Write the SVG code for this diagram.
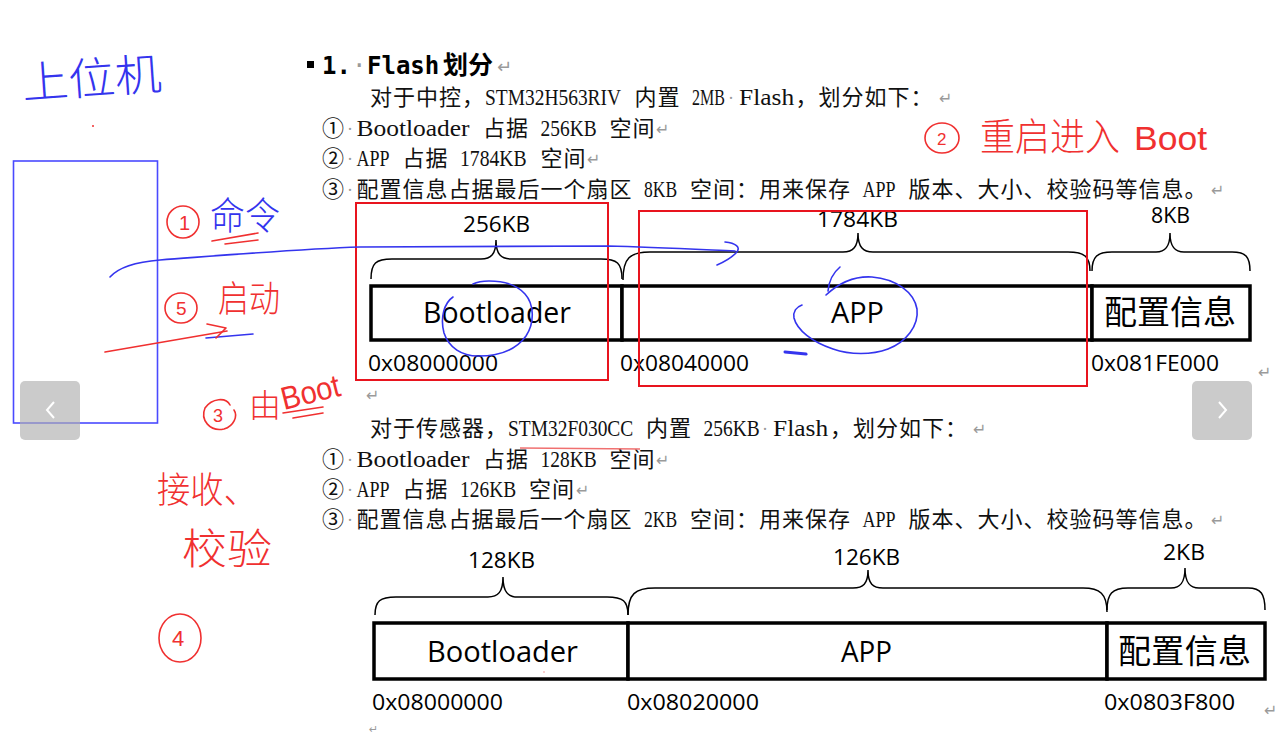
<svg xmlns="http://www.w3.org/2000/svg" width="1275" height="734" viewBox="0 0 1275 734">
<style>
.cjk{font-family:"Noto Sans CJK SC",sans-serif;font-size:22px;letter-spacing:1px;fill:#111}
.lat{font-family:"Liberation Serif","Noto Sans CJK SC",serif;font-size:24px;fill:#111}
.sp{font-family:"Liberation Serif",serif;font-size:18px;fill:#9a9a9a}
.mk{font-family:"DejaVu Sans",sans-serif;font-size:16px;fill:#9a9a9a}
.hd{font-family:"DejaVu Sans Mono","Noto Sans CJK SC",monospace;font-size:24px;font-weight:bold;fill:#000}
.dg{font-family:"Open Sans","Noto Sans CJK SC",sans-serif;fill:#000}
.dgc{font-family:"Noto Sans CJK SC",sans-serif;fill:#000;font-size:33px}
.brace{fill:none;stroke:#000;stroke-width:1.5}
.box{fill:#fff;stroke:#000;stroke-width:3.5}
.redbox{fill:none;stroke:#e8141e;stroke-width:2}
.hb{font-family:"Noto Sans CJK SC",sans-serif;font-weight:200;fill:#3434ee}
.hr{font-family:"Noto Sans CJK SC",sans-serif;font-weight:200;fill:#f03030}
.hrl{font-family:"Liberation Sans",sans-serif;fill:#f03030}
.sb{fill:none;stroke:#3434ee;stroke-width:1.6;stroke-linecap:round;stroke-linejoin:round}
.sr{fill:none;stroke:#f03030;stroke-width:1.6;stroke-linecap:round;stroke-linejoin:round}
.nav{fill:rgb(175,175,175);fill-opacity:0.65}
.chev{fill:none;stroke:#fff;stroke-width:2}
</style>

<!-- Document text -->
<g id="heading">
  <rect x="307" y="61" width="7" height="7" fill="#000"/>
  <text x="322" y="74" class="hd">1.</text>
  <text x="352" y="74" class="hd" style="fill:#9a9a9a;font-weight:normal">·</text>
  <text x="367" y="74" class="hd">Flash</text>
  <text x="443" y="74" class="hd" style="font-family:'Noto Sans CJK SC',sans-serif;font-size:25px">划分</text>
  <text x="497" y="73" class="mk" style="font-size:18px">↵</text>
</g>

<g id="text-block-1">
  <text x="370" y="105" class="cjk">对于中控，</text>
  <text transform="translate(485 105) scale(0.81 1)" class="lat" textLength="168" lengthAdjust="spacingAndGlyphs">STM32H563RIV</text>
  <text x="634.5" y="105" class="cjk">内置</text>
  <text transform="translate(692 105) scale(0.67 1)" class="lat" textLength="49" lengthAdjust="spacingAndGlyphs">2MB</text>
  <text x="728" y="104" class="sp">·</text>
  <text transform="translate(739 105) scale(1.06 1)" class="lat" textLength="52" lengthAdjust="spacingAndGlyphs">Flash</text>
  <text x="795.5" y="105" class="cjk">，划分如下：</text>
  <text x="939" y="104" class="mk">↵</text>

  <text x="322" y="136" class="cjk">①</text>
  <text x="347" y="135" class="sp">·</text>
  <text transform="translate(356.5 136) scale(1.06 1)" class="lat" textLength="106.7" lengthAdjust="spacingAndGlyphs">Bootloader</text>
  <text x="483" y="136" class="cjk">占据</text>
  <text transform="translate(540.5 136) scale(0.81 1)" class="lat" textLength="69.3" lengthAdjust="spacingAndGlyphs">256KB</text>
  <text x="609.5" y="136" class="cjk">空间</text>
  <text x="656" y="135" class="mk">↵</text>

  <text x="322" y="166" class="cjk">②</text>
  <text x="347" y="165" class="sp">·</text>
  <text transform="translate(356.5 166) scale(0.75 1)" class="lat" textLength="44" lengthAdjust="spacingAndGlyphs">APP</text>
  <text x="402.5" y="166" class="cjk">占据</text>
  <text transform="translate(460 166) scale(0.82 1)" class="lat" textLength="81.3" lengthAdjust="spacingAndGlyphs">1784KB</text>
  <text x="540.5" y="166" class="cjk">空间</text>
  <text x="587" y="165" class="mk">↵</text>

  <text x="322" y="197" class="cjk">③</text>
  <text x="347" y="196" class="sp">·</text>
  <text x="356.5" y="197" class="cjk">配置信息占据最后一个扇区</text>
  <text transform="translate(644 197) scale(0.73 1)" class="lat" textLength="45.3" lengthAdjust="spacingAndGlyphs">8KB</text>
  <text x="690" y="197" class="cjk">空间：用来保存</text>
  <text transform="translate(862.5 197) scale(0.75 1)" class="lat" textLength="44" lengthAdjust="spacingAndGlyphs">APP</text>
  <text x="908.5" y="197" class="cjk">版本、大小、校验码等信息。</text>
  <text x="1211" y="196" class="mk">↵</text>
</g>

<g id="text-block-2">
  <text x="370" y="436" class="cjk">对于传感器，</text>
  <text transform="translate(508 436) scale(0.81 1)" class="lat" textLength="154.7" lengthAdjust="spacingAndGlyphs">STM32F030CC</text>
  <text x="646" y="436" class="cjk">内置</text>
  <text transform="translate(703.5 436) scale(0.81 1)" class="lat" textLength="69.3" lengthAdjust="spacingAndGlyphs">256KB</text>
  <text x="762" y="435" class="sp">·</text>
  <text transform="translate(773 436) scale(1.06 1)" class="lat" textLength="52" lengthAdjust="spacingAndGlyphs">Flash</text>
  <text x="830" y="436" class="cjk">，划分如下：</text>
  <text x="973" y="435" class="mk">↵</text>

  <text x="322" y="467" class="cjk">①</text>
  <text x="347" y="466" class="sp">·</text>
  <text transform="translate(356.5 467) scale(1.06 1)" class="lat" textLength="106.7" lengthAdjust="spacingAndGlyphs">Bootloader</text>
  <text x="483" y="467" class="cjk">占据</text>
  <text transform="translate(540.5 467) scale(0.81 1)" class="lat" textLength="69.3" lengthAdjust="spacingAndGlyphs">128KB</text>
  <text x="609.5" y="467" class="cjk">空间</text>
  <text x="656" y="466" class="mk">↵</text>

  <text x="322" y="497" class="cjk">②</text>
  <text x="347" y="496" class="sp">·</text>
  <text transform="translate(356.5 497) scale(0.75 1)" class="lat" textLength="44" lengthAdjust="spacingAndGlyphs">APP</text>
  <text x="402.5" y="497" class="cjk">占据</text>
  <text transform="translate(460 497) scale(0.81 1)" class="lat" textLength="69.3" lengthAdjust="spacingAndGlyphs">126KB</text>
  <text x="529" y="497" class="cjk">空间</text>
  <text x="576" y="496" class="mk">↵</text>

  <text x="322" y="527" class="cjk">③</text>
  <text x="347" y="526" class="sp">·</text>
  <text x="356.5" y="527" class="cjk">配置信息占据最后一个扇区</text>
  <text transform="translate(644 527) scale(0.73 1)" class="lat" textLength="45.3" lengthAdjust="spacingAndGlyphs">2KB</text>
  <text x="690" y="527" class="cjk">空间：用来保存</text>
  <text transform="translate(862.5 527) scale(0.75 1)" class="lat" textLength="44" lengthAdjust="spacingAndGlyphs">APP</text>
  <text x="908.5" y="527" class="cjk">版本、大小、校验码等信息。</text>
  <text x="1211" y="526" class="mk">↵</text>
</g>

<!-- Diagram 1 -->
<g id="diagram-1">
  <g id="d1-braces">
    <path class="brace" d="M371,279 C371,263 376,259 392,259 L481,259 C491,259 496,254 496,240 C496,254 501,259 511,259 L601,259 C617,259 622,263 622,279"/>
    <path class="brace" d="M623,280 C623,258 630,252 650,252 L843,252 C853,252 858,247 858,233 C858,247 863,252 873,252 L1068,252 C1085,252 1090,257 1090,271"/>
    <path class="brace" d="M1092,271 C1092,257 1097,252 1112,252 L1156,252 C1165,252 1170,247 1170,233 C1170,247 1175,252 1184,252 L1232,252 C1246,252 1250,257 1250,271"/>
    <text x="463" y="232" class="dg" font-size="21" textLength="67" lengthAdjust="spacingAndGlyphs">256KB</text>
    <text x="817" y="227" class="dg" font-size="21" textLength="81" lengthAdjust="spacingAndGlyphs">1784KB</text>
    <text x="1151" y="223" class="dg" font-size="21" textLength="39" lengthAdjust="spacingAndGlyphs">8KB</text>
  </g>
  <g id="d1-bootloader">
    <rect class="box" x="371" y="286" width="251" height="54"/>
    <text x="423" y="323" class="dg" font-size="30" textLength="148" lengthAdjust="spacingAndGlyphs">Bootloader</text>
    <text x="368" y="371" class="dg" font-size="21" textLength="130" lengthAdjust="spacingAndGlyphs">0x08000000</text>
  </g>
  <g id="d1-app">
    <rect class="box" x="622" y="286" width="470" height="54"/>
    <text x="831" y="323" class="dg" font-size="30" textLength="53" lengthAdjust="spacingAndGlyphs">APP</text>
    <text x="620" y="371" class="dg" font-size="21" textLength="129" lengthAdjust="spacingAndGlyphs">0x08040000</text>
  </g>
  <g id="d1-config">
    <rect class="box" x="1092" y="286" width="158" height="54"/>
    <text x="1104" y="324" class="dgc" textLength="132">配置信息</text>
    <text x="1091" y="371" class="dg" font-size="21" textLength="128" lengthAdjust="spacingAndGlyphs">0x081FE000</text>
  </g>
  <text x="366" y="401" class="mk">↵</text>
  <text x="1258" y="378" class="mk">↵</text>
</g>

<!-- Diagram 2 -->
<g id="diagram-2">
  <g id="d2-braces">
    <path class="brace" d="M375,615 C375,601 380,597 396,597 L488,597 C498,597 503,592 503,577 C503,592 508,597 518,597 L607,597 C623,597 628,601 628,615"/>
    <path class="brace" d="M628,615 C628,594 635,588 655,588 L853,588 C863,588 868,584 868,570 C868,584 873,588 883,588 L1083,588 C1100,588 1107,594 1107,612"/>
    <path class="brace" d="M1107,610 C1107,594 1112,588 1128,588 L1171,588 C1180,588 1185,583 1185,568 C1185,583 1190,588 1199,588 L1248,588 C1261,588 1265,594 1265,610"/>
    <text x="468" y="568" class="dg" font-size="21" textLength="67" lengthAdjust="spacingAndGlyphs">128KB</text>
    <text x="833" y="565" class="dg" font-size="21" textLength="67" lengthAdjust="spacingAndGlyphs">126KB</text>
    <text x="1163" y="560" class="dg" font-size="21" textLength="42" lengthAdjust="spacingAndGlyphs">2KB</text>
  </g>
  <g id="d2-bootloader">
    <rect class="box" x="374" y="623" width="254" height="56"/>
    <text x="427" y="662" class="dg" font-size="30" textLength="151" lengthAdjust="spacingAndGlyphs">Bootloader</text>
    <text x="372" y="710" class="dg" font-size="21" textLength="131" lengthAdjust="spacingAndGlyphs">0x08000000</text>
  </g>
  <g id="d2-app">
    <rect class="box" x="628" y="623" width="479" height="56"/>
    <text x="841" y="662" class="dg" font-size="30" textLength="51" lengthAdjust="spacingAndGlyphs">APP</text>
    <text x="627" y="710" class="dg" font-size="21" textLength="132" lengthAdjust="spacingAndGlyphs">0x08020000</text>
  </g>
  <g id="d2-config">
    <rect class="box" x="1107" y="623" width="158" height="56"/>
    <text x="1118" y="663" class="dgc" textLength="133">配置信息</text>
    <text x="1104" y="710" class="dg" font-size="21" textLength="131" lengthAdjust="spacingAndGlyphs">0x0803F800</text>
  </g>
  <text x="1264" y="716" class="mk">↵</text>
  <text x="369" y="733" class="mk" style="font-size:11px">↵</text>
</g>

<!-- Annotation boxes -->
<g id="host-box">
  <rect x="13.5" y="161" width="144" height="262" fill="none" stroke="#4a4aff" stroke-width="1.6"/>
</g>
<g id="red-box-boot"><rect class="redbox" x="356" y="203" width="252" height="177"/></g>
<g id="red-box-app"><rect class="redbox" x="639" y="211" width="448" height="175"/></g>

<!-- Handwritten notes -->
<g id="notes">
  <text x="23" y="99" class="hb" font-size="44" textLength="140" lengthAdjust="spacingAndGlyphs" transform="rotate(-4 23 99)">上位机</text>
  <circle cx="93" cy="126" r="1" fill="#f03030"/>

  <ellipse class="sr" cx="183" cy="222" rx="16" ry="16"/>
  <text x="179" y="230" class="hrl" font-size="20">1</text>
  <text x="210" y="229" class="hb" font-size="38" textLength="70" lengthAdjust="spacingAndGlyphs">命令</text>
  <path class="sr" d="M212,241 L258,233 M225,244 L258,240"/>

  <ellipse class="sr" cx="181" cy="308" rx="16" ry="15"/>
  <text x="176" y="315" class="hrl" font-size="19">5</text>
  <text x="218" y="312" class="hr" font-size="36" textLength="62" lengthAdjust="spacingAndGlyphs">启动</text>
  <path class="sb" d="M206,338 L253,334"/>

  <path class="sr" d="M230,405 C226,397 212,398 205,408 C200,420 210,432 224,429 C234,426 238,416 234,410"/>
  <text x="213" y="422" class="hrl" font-size="18">3</text>
  <text x="249" y="417" class="hr" font-size="32">由</text>
  <text x="284" y="410" class="hrl" font-size="32" textLength="60" lengthAdjust="spacingAndGlyphs" transform="rotate(-14 284 410)">Boot</text>
  <path class="sr" d="M283,413 L323,407 M293,418 L323,413"/>

  <text x="157" y="503" class="hr" font-size="36" textLength="100" lengthAdjust="spacingAndGlyphs">接收、</text>
  <text x="182" y="564" class="hr" font-size="42" textLength="90" lengthAdjust="spacingAndGlyphs">校验</text>

  <ellipse class="sr" cx="180" cy="638" rx="21" ry="24"/>
  <text x="172" y="646" class="hrl" font-size="22">4</text>

  <ellipse class="sr" cx="942" cy="138" rx="17" ry="15"/>
  <text x="937" y="145" class="hrl" font-size="17">2</text>
  <text x="980" y="150" class="hr" font-size="38" textLength="140" lengthAdjust="spacingAndGlyphs">重启进入</text>
  <text x="1134" y="150" class="hrl" font-size="34" textLength="73" lengthAdjust="spacingAndGlyphs">Boot</text>

  <path class="sb" d="M453,297 C444,303 440,318 444,333 C449,348 462,356 478,356 C498,356 516,350 526,336 C535,322 534,304 525,294 C517,285 503,281 489,281 C482,281 477,282 473,284"/>
  <path class="sb" d="M840,267 C834,272 829,280 828,291 M826,295 C840,282 856,276 872,277 C896,279 914,292 917,309 C919,326 906,342 888,349 C872,355 850,355 833,349 C812,342 797,330 794,318 C793,312 796,307 802,305"/>
  <path d="M785,352 L806,354" fill="none" stroke="#3434ee" stroke-width="3" stroke-linecap="round"/>
  <path d="M520,448 L640,449" fill="none" stroke="#f07070" stroke-width="1.4"/>
  <circle cx="544" cy="672" r="0.8" fill="#f09090"/>
</g>

<!-- Connectors (hand-drawn arrows) -->
<g id="connectors">
  <path class="sb" d="M110,277 C118,268 135,262 160,260 C240,254 300,249 360,247 L608,246 C650,247 690,249 735,251"/>
  <path class="sb" d="M725,242 C735,243 742,247 736,253 C731,258 724,262 717,265"/>
  <path class="sr" d="M105,352 L227,331"/>
  <path class="sr" d="M207,324 L226,328 L216,338"/>
</g>

<!-- Viewer navigation buttons -->
<g id="nav-left">
  <rect class="nav" x="20" y="381" width="60" height="59" rx="5"/>
  <polyline class="chev" points="54,402 47,410 54,418"/>
</g>
<g id="nav-right">
  <rect class="nav" x="1192" y="381" width="60" height="59" rx="5"/>
  <polyline class="chev" points="1219,402 1226,410 1219,418"/>
</g>
</svg>
